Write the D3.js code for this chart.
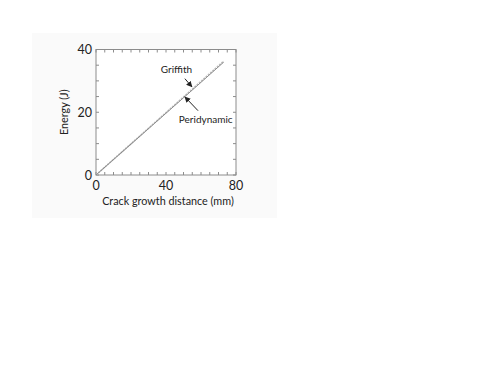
<!DOCTYPE html>
<html>
<head>
<meta charset="utf-8">
<script src="https://cdn.jsdelivr.net/npm/d3@7"></script>
<style>
  body { margin: 0; background: #fff; }
  text { font-family: Lato, "Open Sans", sans-serif; fill: #222; }
</style>
</head>
<body>
<svg id="chart" width="498" height="374"></svg>
<script>
// crack growth distance (mm) vs energy (J)
var griffithX = [0, 20, 40, 60, 73];
var griffithY = [0, 9.95, 19.9, 29.85, 36.3];
var peridynamicX = [0, 20, 40, 60, 73];
var peridynamicY = [0, 9.85, 19.7, 29.55, 36.0];
var xTicks = [0, 40, 80];
var yTicks = [0, 20, 40];

var svg = d3.select("#chart");

// faint page background behind the figure
svg.append("rect")
   .attr("x", 32).attr("y", 33)
   .attr("width", 245).attr("height", 185)
   .attr("fill", "#fafafa");

var pLeft = 96, pRight = 236, pTop = 49.5, pBottom = 175;

var x = d3.scaleLinear().domain([0, 80]).range([pLeft, pRight]);
var y = d3.scaleLinear().domain([0, 40]).range([pBottom, pTop]);

var minor = d3.range(0, 81, 5);
var minorY = d3.range(0, 41, 5);

// frame
svg.append("rect")
   .attr("x", pLeft).attr("y", pTop)
   .attr("width", pRight - pLeft).attr("height", pBottom - pTop)
   .attr("fill", "#fff")
   .attr("stroke", "#8c8c8c")
   .attr("stroke-width", 1);

// inward minor ticks on all four sides
var tk = svg.append("g").attr("stroke", "#8c8c8c").attr("stroke-width", 1);
minor.forEach(function(v){
  tk.append("line").attr("x1", x(v)).attr("x2", x(v)).attr("y1", pBottom).attr("y2", pBottom - 3);
  tk.append("line").attr("x1", x(v)).attr("x2", x(v)).attr("y1", pTop).attr("y2", pTop + 3);
});
minorY.forEach(function(v){
  tk.append("line").attr("y1", y(v)).attr("y2", y(v)).attr("x1", pLeft).attr("x2", pLeft + 3);
  tk.append("line").attr("y1", y(v)).attr("y2", y(v)).attr("x1", pRight).attr("x2", pRight - 3);
});

// tick labels
svg.selectAll(".xl").data(xTicks).enter().append("text")
   .attr("x", function(d){ return x(d); })
   .attr("y", pBottom + 14.5)
   .attr("text-anchor", "middle")
   .attr("font-size", 12.5)
   .text(function(d){ return d; });

svg.selectAll(".yl").data(yTicks).enter().append("text")
   .attr("x", pLeft - 4)
   .attr("y", function(d){ return y(d) + 4.5; })
   .attr("text-anchor", "end")
   .attr("font-size", 12.5)
   .text(function(d){ return d; });

// axis titles
svg.append("text")
   .attr("x", (pLeft + pRight) / 2 + 2).attr("y", 205)
   .attr("text-anchor", "middle")
   .attr("font-size", 10.8)
   .text("Crack growth distance (mm)");

svg.append("text")
   .attr("transform", "translate(68," + ((pTop + pBottom) / 2) + ") rotate(-90)")
   .attr("text-anchor", "middle")
   .attr("font-size", 10.8)
   .text("Energy (J)");

var line = d3.line()
  .x(function(d){ return x(d[0]); })
  .y(function(d){ return y(d[1]); });

svg.append("path")
   .datum(d3.zip(griffithX, griffithY))
   .attr("d", line)
   .attr("fill", "none")
   .attr("stroke", "#bdbdbd")
   .attr("stroke-width", 1.6)
   .attr("stroke-dasharray", "2,1");

svg.append("path")
   .datum(d3.zip(peridynamicX, peridynamicY))
   .attr("d", line)
   .attr("fill", "none")
   .attr("stroke", "#8a8a8a")
   .attr("stroke-width", 1);

// annotations
svg.append("defs").append("marker")
   .attr("id", "ah")
   .attr("viewBox", "0 0 10 10")
   .attr("refX", 9).attr("refY", 5)
   .attr("markerWidth", 6).attr("markerHeight", 6)
   .attr("orient", "auto")
   .append("path").attr("d", "M0,0 L10,5 L0,10 z").attr("fill", "#222");

svg.append("text")
   .attr("x", x(46)).attr("y", y(32.4))
   .attr("text-anchor", "middle")
   .attr("font-size", 10)
   .text("Griffith");

svg.append("line")
   .attr("x1", x(50.8)).attr("y1", y(30.7))
   .attr("x2", x(54.8)).attr("y2", y(28.1))
   .attr("stroke", "#222").attr("stroke-width", 1)
   .attr("marker-end", "url(#ah)");

svg.append("line")
   .attr("x1", x(58.3)).attr("y1", y(20.5))
   .attr("x2", x(50.8)).attr("y2", y(24.9))
   .attr("stroke", "#222").attr("stroke-width", 1)
   .attr("marker-end", "url(#ah)");

svg.append("text")
   .attr("x", x(62.7)).attr("y", y(16.5))
   .attr("text-anchor", "middle")
   .attr("font-size", 10)
   .text("Peridynamic");
</script>
</body>
</html>
